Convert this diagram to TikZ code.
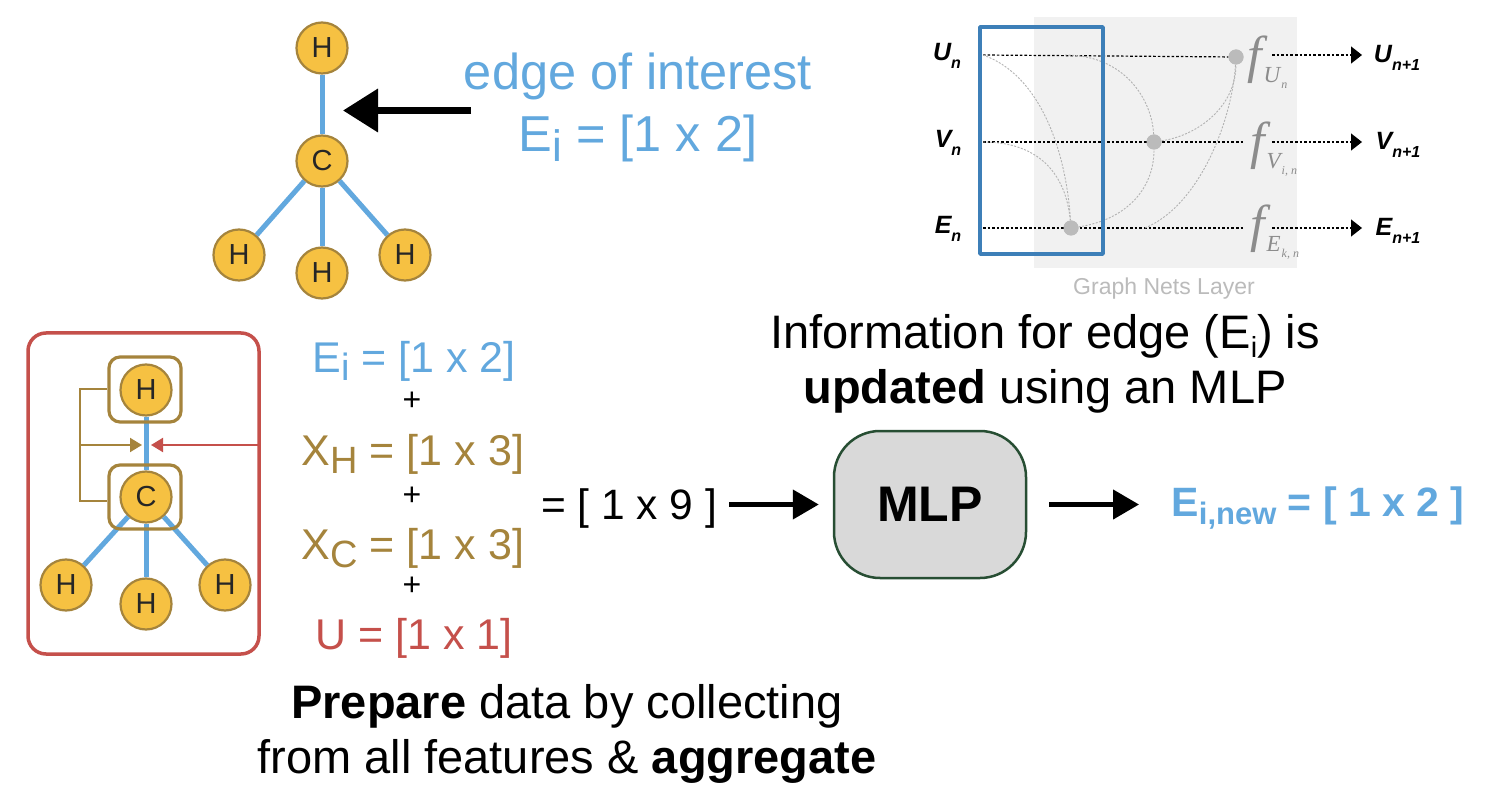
\documentclass[tikz,border=0pt]{standalone}
\usepackage{fontspec}
\setmainfont{Liberation Sans}
\newfontfamily\serifit[ItalicFont=Liberation Serif Italic]{Liberation Serif}
\usetikzlibrary{arrows.meta}
\definecolor{blueE}{HTML}{62A8DE}
\definecolor{brownX}{HTML}{A5843C}
\definecolor{redU}{HTML}{C5504B}
\definecolor{atomfill}{HTML}{F6C142}
\definecolor{gnblue}{HTML}{3D7FB8}
\definecolor{gnbg}{HTML}{F1F1F1}
\definecolor{gngray}{HTML}{BBBBBB}
\definecolor{fgray}{HTML}{8C8C8C}
\definecolor{mlpfill}{HTML}{D9D9D9}
\definecolor{mlpline}{HTML}{274E33}
\newcommand{\fsz}[1]{\fontsize{#1}{#1}\selectfont}
\newcommand{\subt}[2]{\raisebox{-.2em}{\fsz{#1}#2}}
\newcommand{\gnlab}[2]{{\fsz{25}\bfseries\itshape #1\raisebox{-.34em}{\fsz{16}#2}}}
\newcommand{\ffun}[2]{{\color{fgray}\serifit\itshape{\fsz{52}f}\hspace{2pt}\raisebox{-10pt}{\fsz{23}#1\raisebox{-6pt}{\fsz{12}\hspace{1pt}#2}}}}
\tikzset{
  atom/.style={circle,fill=atomfill,draw=brownX,line width=2.2pt,minimum size=51pt,inner sep=0pt,font=\fsz{29},text=black!85},
  bond/.style={blueE,line width=5pt},
  atombox/.style={draw=brownX,line width=3.2pt,rounded corners=11pt,minimum width=72pt,inner sep=0pt},
  brownline/.style={brownX,line width=2pt},
  bigarrow/.style={black,line width=4.5pt,-{Triangle[length=26pt,width=29pt]}},
  lbl/.style={inner sep=0pt,anchor=center,align=center},
  blacklbl/.style={lbl,font=\fsz{47},text=black},
  eq/.style={lbl,font=\fsz{43}},
  plus/.style={lbl,font=\fsz{32},text=black},
  gndash/.style={black,line width=1.2pt,dash pattern=on 2.6pt off 2pt},
  gncurve/.style={black!30,line width=.9pt,dash pattern=on 2pt off 1.5pt},
  gndot/.style={circle,fill=gngray,minimum size=15pt,inner sep=0pt},
  gntip/.style={-{Triangle[length=11pt,width=17pt]}}
}
\begin{document}
\begin{tikzpicture}[x=1pt,y=-1pt]
\useasboundingbox (0,0) rectangle (1492,786);
\fill[white] (0,0) rectangle (1492,786);
% top molecule
\node[atom] (h1) at (322,48) {H};
\node[atom] (c1) at (322,161) {C};
\node[atom] (h2) at (239,255) {H};
\node[atom] (h3) at (322,273) {H};
\node[atom] (h4) at (405,255) {H};
\draw[bond] (h1)--(c1);
\draw[bond] (c1)--(h2);
\draw[bond] (c1)--(h3);
\draw[bond] (c1)--(h4);
\node[lbl,font=\fsz{50.5},text=blueE] (interest) at (638,76) {edge of interest};
\node[lbl,font=\fsz{50.5},text=blueE] (ei) at (638,138) {E\subt{44}{i} = [1 x 2]};
\coordinate (bondtip) at (343,110.5);
\coordinate (bondtail) at (471,110.5);
\draw[black,line width=7pt,-{Triangle[length=35pt,width=42pt]}] (bondtail) -- (bondtip);
% graph nets
\fill[gnbg] (1034,17) rectangle (1297,268);
\node[gndot] (du) at (1236,57) {};
\node[gndot] (dv) at (1154,142) {};
\node[gndot] (de) at (1071,228) {};
\coordinate (u0) at (983,55);
\coordinate (v0) at (983,142);
\coordinate (e0) at (983,228);
\coordinate (v1) at (1243,142);
\coordinate (e1) at (1243,228);
\draw[gndash] (u0) -- (du);
\draw[gndash] (v0) -- (v1);
\draw[gndash] (e0) -- (e1);
\draw[gncurve] (u0) .. controls (1040,75) and (1066,150) .. (de);
\draw[gncurve] (v0) .. controls (1040,142) and (1066,175) .. (de);
\draw[gncurve] (de) .. controls (1125,220) and (1154,190) .. (dv);
\draw[gncurve] (1065,55) .. controls (1125,55) and (1152,100) .. (dv);
\draw[gncurve] (dv) .. controls (1200,135) and (1236,105) .. (du);
\draw[gncurve] (1145,228) .. controls (1200,205) and (1232,120) .. (du);
\node[gndot] at (du) {};
\node[gndot] at (dv) {};
\node[gndot] at (de) {};
\draw[gnblue,line width=3.5pt,line join=round] (980,27) rectangle (1103,254);
\node[lbl] (un) at (947,56) {\gnlab{U}{n}};
\node[lbl] (vn) at (948,143) {\gnlab{V}{n}};
\node[lbl] (en) at (948,229) {\gnlab{E}{n}};
\node[lbl] (un1) at (1397,58) {\gnlab{U}{n+1}};
\node[lbl] (vn1) at (1398,145) {\gnlab{V}{n+1}};
\node[lbl] (en1) at (1398,231) {\gnlab{E}{n+1}};
\coordinate (ua) at (1272,55);
\coordinate (va) at (1272,142);
\coordinate (ea) at (1272,228);
\coordinate (ub) at (1362,55);
\coordinate (vb) at (1362,142);
\coordinate (eb) at (1362,228);
\draw[gndash,gntip] (ua) -- (ub);
\draw[gndash,gntip] (va) -- (vb);
\draw[gndash,gntip] (ea) -- (eb);
\node[lbl,anchor=west] (fu) at (1247,62) {\ffun{U}{n}};
\node[lbl,anchor=west] (fv) at (1250,149) {\ffun{V}{i, n}};
\node[lbl,anchor=west] (fe) at (1250,232) {\ffun{E}{k, n}};
\node[lbl,font=\fsz{23},text=gngray] (gnl) at (1164,289) {Graph Nets Layer};
% red box molecule
\node[draw=redU,line width=3.5pt,rounded corners=18pt,minimum width=231pt,minimum height=321pt,inner sep=0pt] (redbox) at (143.5,493.5) {};
\node[atom] (sh1) at (146,390) {H};
\node[atom] (sc) at (146,497) {C};
\node[atom] (sh2) at (66,585) {H};
\node[atom] (sh3) at (146,604) {H};
\node[atom] (sh4) at (225,585) {H};
\draw[bond] (sh1)--(sc);
\draw[bond] (sc)--(sh2);
\draw[bond] (sc)--(sh3);
\draw[bond] (sc)--(sh4);
\node[atombox,minimum height=65pt] (hbox) at (145,389.5) {};
\node[atombox,minimum height=64pt] (cbox) at (145,497) {};
\coordinate (bus) at (80,445);
\coordinate (btip) at (142,445);
\coordinate (rtip) at (151,445);
\draw[brownline] (hbox.west) -| (bus) |- ([yshift=-4pt]cbox.west);
\draw[brownline,-{Triangle[length=12pt,width=14pt]}] (bus) -- (btip);
\draw[redU,line width=2pt,-{Triangle[length=12pt,width=14pt]}] (redbox.east |- rtip) -- (rtip);
% equation
\node[eq,text=blueE] (e1t) at (414,361) {E\subt{38}{i} = [1 x 2]};
\node[plus] (p1) at (412,401) {+};
\node[eq,text=brownX] (xh) at (413,454) {X\subt{38}{H} = [1 x 3]};
\node[plus] (p2) at (412,496) {+};
\node[eq,text=brownX] (xc) at (413,548) {X\subt{38}{C} = [1 x 3]};
\node[plus] (p3) at (412,586) {+};
\node[eq,text=redU] (ut) at (414,638) {U = [1 x 1]};
\node[lbl,font=\fsz{42.5}] (eq9) at (629,509) {= [ 1 x 9 ]};
\node[draw=mlpline,fill=mlpfill,line width=2.5pt,rounded corners=46pt,minimum width=192pt,minimum height=147pt,inner sep=0pt,font=\bfseries\fsz{50}] (mlp) at (930,504.5) {MLP};
\node[lbl,font=\bfseries\fsz{41},text=blueE] (enew) at (1318,508) {E\subt{31}{i,new} = [ 1 x 2 ]};
\coordinate (a1) at (729,504.5);
\coordinate (a2) at (1049,504.5);
\coordinate (a3) at (1139,504.5);
\draw[bigarrow,shorten >=14pt] (a1) -- (mlp.west);
\draw[bigarrow] (a2) -- (a3);
\node[blacklbl] (info1) at (1045,336) {Information for edge (E\subt{29}{i}) is};
\node[blacklbl] (info2) at (1045,391) {\textbf{updated} using an MLP};
\node[blacklbl] (prep1) at (567,706) {\textbf{Prepare} data by collecting};
\node[blacklbl] (prep2) at (567,761) {from all features \& \textbf{aggregate}};
\end{tikzpicture}
\end{document}
